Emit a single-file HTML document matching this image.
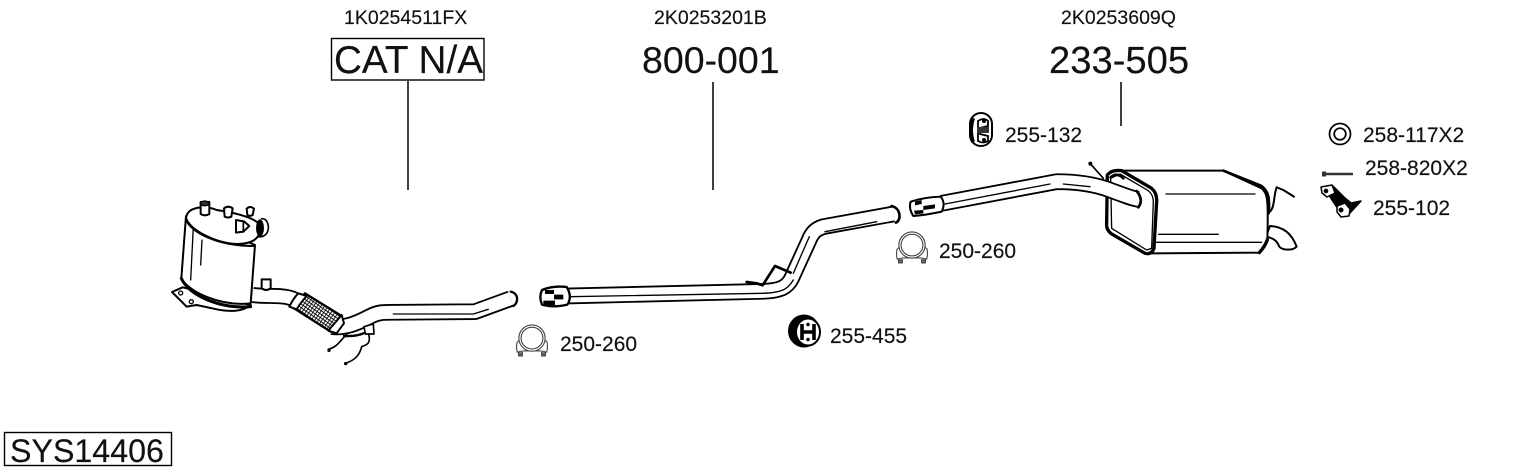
<!DOCTYPE html>
<html><head><meta charset="utf-8"><style>
html,body{margin:0;padding:0;background:#fff}
svg{display:block}
text{font-family:"Liberation Sans",sans-serif;fill:#111;stroke:#111;stroke-width:.15px}
.s{font-size:19.5px}.m{font-size:21px}
</style></head><body>
<svg width="1530" height="474" viewBox="0 0 1530 474" xmlns="http://www.w3.org/2000/svg">
<defs>
<pattern id="h" width="9" height="9" patternUnits="userSpaceOnUse" patternTransform="rotate(35)">
<rect width="9" height="9" fill="#fff"/><path d="M0 0H9M0 0V9" stroke="#000" stroke-width="5"/>
</pattern>
<g id="clamp" fill="#fff" stroke="#444" stroke-width="3.500" stroke-linejoin="round">
<path d="M8,88 V100 H20 V88M80,88 V100 H92 V88" fill="#666"/>
<path d="M3,58 Q0,75 4,88 L22,84 H78 L96,88 Q100,72 97,56 L88,48 H12Z"/>
<circle cx="50" cy="44" r="41"/>
<circle cx="50" cy="44" r="34"/>
</g>
</defs>
<rect width="1530" height="474" fill="#fff"/>

<!-- Labels -->
<text x="344" y="24" class="s">1K0254511FX</text>
<text x="654" y="24" class="s">2K0253201B</text>
<text x="1061" y="24" class="s">2K0253609Q</text>
<rect x="331.500" y="38.500" width="152.500" height="41.500" fill="#fff" stroke="#000" stroke-width="1.400"/>
<text x="334" y="73" font-size="38.800" textLength="149" lengthAdjust="spacingAndGlyphs">CAT N/A</text>
<text x="642" y="73" font-size="37.500">800-001</text>
<text x="1049" y="73" font-size="38.200">233-505</text>
<path d="M408 81V190M713 82V190M1121 82V126" stroke="#111" stroke-width="1.600" fill="none"/>
<rect x="4.500" y="432.500" width="167" height="33" fill="#fff" stroke="#000" stroke-width="1.400"/>
<text x="10" y="462" font-size="32.200">SYS14406</text>
<text x="560" y="351" class="m">250-260</text>
<text x="830" y="343" class="m">255-455</text>
<text x="939" y="258" class="m">250-260</text>
<text x="1005" y="142" class="m">255-132</text>
<text x="1363" y="142" class="m">258-117X2</text>
<text x="1365" y="175" class="m">258-820X2</text>
<text x="1373" y="215" class="m">255-102</text>

<!-- Cat + front pipe -->
<g transform="translate(160,190) scale(.3333)" fill="none" stroke-linecap="round" stroke-linejoin="round">
<path d="M36,306 L68,292 L272,345 Q240,372 170,358 L110,345 L80,350Z" fill="#fff" stroke="#000" stroke-width="6"/>
<circle cx="62" cy="309" r="6" stroke="#000" stroke-width="4"/><circle cx="94" cy="335" r="6" stroke="#000" stroke-width="4"/>
<path d="M78,78 L64,265 C85,305 180,350 272,340 L285,165Z" fill="#fff" stroke="#000" stroke-width="6"/>
<path d="M64,265 C85,315 180,358 272,350" stroke="#000" stroke-width="9"/>
<path d="M100,110 L92,270M126,150 L122,225" stroke="#000" stroke-width="4"/>
<path d="M82,72 C92,52 135,45 170,60 C225,68 295,85 302,110 C302,140 285,162 230,162 C170,160 85,120 78,82Z" fill="#fff" stroke="#000" stroke-width="6"/>
<path d="M78,88 C90,125 170,168 282,168" stroke="#000" stroke-width="6"/>
<path d="M122,36 H148 V72 Q135,80 122,72Z" fill="#fff" stroke="#000" stroke-width="6"/><ellipse cx="134" cy="40" rx="13" ry="7" fill="#333" stroke="#000" stroke-width="4"/>
<path d="M192,55 Q205,45 218,55 L214,80 Q203,85 194,80Z" fill="#fff" stroke="#000" stroke-width="6"/>
<path d="M260,56 Q270,46 282,56 L278,75 Q270,80 262,75Z" fill="#fff" stroke="#000" stroke-width="6"/>
<path d="M228,90 L252,94 L268,108 L250,125 L228,128Z" fill="#fff" stroke="#000" stroke-width="6"/><path d="M250,94V126" stroke="#000" stroke-width="5"/>
<ellipse cx="300" cy="114" rx="12" ry="26" fill="#000"/><path d="M305,86 C325,85 330,115 320,130 Q310,143 292,140" stroke="#000" stroke-width="5"/>
<path d="M278,315 C330,322 380,310 415,335" stroke="#000" stroke-width="48" stroke-linecap="butt"/>
<path d="M278,315 C330,322 380,310 415,335" stroke="#fff" stroke-width="37" stroke-linecap="butt"/>
<path d="M305,268 H332 V295 Q318,305 305,295Z" fill="#fff" stroke="#000" stroke-width="6"/>
<path d="M505,478 C535,470 540,450 560,435M555,520 C590,510 600,490 605,470 C620,465 635,460 625,430" stroke="#000" stroke-width="5"/>
<circle cx="507" cy="481" r="5" fill="#000"/><circle cx="557" cy="521" r="5" fill="#000"/>
<path d="M515,410 C555,415 590,400 625,382 C650,368 665,367 690,367 L945,365 L1052,326" stroke="#000" stroke-width="50" stroke-linecap="butt"/>
<path d="M515,410 C555,415 590,400 625,382 C650,368 665,367 690,367 L945,365 L1052,326" stroke="#fff" stroke-width="39" stroke-linecap="butt"/>
<path d="M1052,305 C1078,310 1075,340 1060,348" stroke="#000" stroke-width="7" fill="#fff"/>
<path d="M700,372 L940,372 L985,358" stroke="#000" stroke-width="4"/>
<path d="M612,410 L640,402 L642,432 L616,432Z" fill="#fff" stroke="#000" stroke-width="5"/>
<path d="M402,355 L435,310 L545,378 L512,425Z" fill="url(#h)" stroke="#000" stroke-width="7"/>
<path d="M415,310 L440,318 Q420,340 410,358 L388,350Q400,325 415,310ZM545,375 L552,400 L530,430 L505,422Z" fill="#fff" stroke="#000" stroke-width="6"/>
<path d="M552,438 Q590,440 615,428" stroke="#000" stroke-width="7"/>
</g>

<!-- Mid pipe -->
<g transform="translate(530,190) scale(.3333)" fill="none" stroke-linecap="round" stroke-linejoin="round">
<path d="M110,318 L700,304 C755,302 772,290 785,265 L842,140 C852,122 862,116 880,110 L1090,72" stroke="#000" stroke-width="50" stroke-linecap="butt"/>
<path d="M110,318 L700,304 C755,302 772,290 785,265 L842,140 C852,122 862,116 880,110 L1090,72" stroke="#fff" stroke-width="39" stroke-linecap="butt"/>
<path d="M120,320 L700,310 C760,308 775,295 790,270" stroke="#000" stroke-width="4"/>
<path d="M790,250 L838,140 M885,125 L1040,95" stroke="#000" stroke-width="4"/>
<path d="M1085,48 C1114,55 1114,92 1098,98" fill="#fff" stroke="#000" stroke-width="8"/>
<path d="M650,276 L680,280 L698,286 L735,228 L782,248" stroke="#000" stroke-width="8"/>
<path d="M36,300 Q70,286 110,291 Q128,320 112,344 Q70,354 36,344 Q26,320 36,300Z" fill="#fff" stroke="#000" stroke-width="7"/>
<path d="M45,300 H72 V312 H45ZM40,332 H75 V345 H40Z M72,314 H100 V328 H72Z" fill="#000"/>
</g>

<!-- Muffler + rear pipe -->
<g transform="translate(890,100) scale(.3333)" fill="none" stroke-linecap="round" stroke-linejoin="round">
<path d="M1140,378 C1180,380 1205,400 1220,440 C1210,452 1178,452 1168,440 C1160,420 1150,415 1128,410Z" fill="#fff" stroke="#000" stroke-width="6"/>
<path d="M1140,335 C1155,320 1150,290 1160,262 L1180,270 L1212,290" stroke="#000" stroke-width="6"/>
<path d="M690,212 L1000,212 L1115,265 C1132,280 1136,295 1132,420 L1108,458 L780,460Z" fill="#fff" stroke="#000" stroke-width="6"/>
<path d="M1000,212 L1115,258 C1136,275 1140,295 1136,340" stroke="#000" stroke-width="8"/>
<path d="M828,282 H1095M806,403 H985M800,427 H1115" stroke="#000" stroke-width="4"/>
<path d="M1108,458 Q1125,440 1132,420" stroke="#000" stroke-width="10"/>
<path d="M652,225 Q665,208 695,212 L785,265 Q802,280 800,305 L792,445 Q785,465 765,460 L665,402 Q648,390 650,370Z" fill="#fff" stroke="#000" stroke-width="10"/>
<path d="M662,235 L665,385 L770,450 L785,445 L790,305 Q790,285 775,272 L690,222Z" stroke="#000" stroke-width="4"/>
<path d="M600,190 L640,235" stroke="#000" stroke-width="5"/><circle cx="601" cy="191" r="6" fill="#000"/>
<path d="M662,232 Q680,215 700,235" stroke="#000" stroke-width="8"/>
<path d="M155,310 L500,245 C570,245 620,255 660,270 C700,285 725,295 745,298" stroke="#000" stroke-width="50" stroke-linecap="butt"/>
<path d="M155,310 L500,245 C570,245 620,255 660,270 C700,285 725,295 745,298" stroke="#fff" stroke-width="39" stroke-linecap="butt"/>
<path d="M165,312 L480,252 M520,252 L600,260" stroke="#000" stroke-width="4"/>
<path d="M740,273 Q762,300 745,322" stroke="#000" stroke-width="8" fill="#fff"/>
<path d="M62,305 Q100,292 152,290 Q168,310 155,335 Q110,345 70,348 Q55,325 62,305Z" fill="#fff" stroke="#000" stroke-width="6"/>
<path d="M100,318 L135,313 V325 L100,330Z M75,305 L95,300 V312 L75,316Z M72,332 L100,330 V340 L75,343Z" fill="#000"/>
</g>

<!-- Clamps -->
<use href="#clamp" transform="translate(516,324) scale(.32)"/>
<use href="#clamp" transform="translate(896,231) scale(.32)"/>

<!-- Hanger 255-455 -->
<g>
<ellipse cx="804" cy="331" rx="16" ry="16.500" fill="#000"/>
<ellipse cx="808" cy="332" rx="12" ry="13.500" fill="#fff" stroke="#000" stroke-width="2"/>
<path d="M802,324 V340 M814,324 V340 M802,332 H814" stroke="#000" stroke-width="3.600"/>
<circle cx="808" cy="324.500" r="1.800" fill="#000"/><circle cx="808" cy="339.500" r="1.800" fill="#000"/>
</g>
<!-- Hanger 255-132 -->
<g>
<rect x="970" y="113" width="22" height="33" rx="11" fill="#fff" stroke="#000" stroke-width="2"/>
<path d="M973,118 Q969,130 973,142" stroke="#000" stroke-width="4" fill="none"/>
<path d="M978,121 Q984,117 988,121 V126 L980,128 V134 L988,136 V141 Q983,144 978,141Z" fill="#fff" stroke="#000" stroke-width="1.800"/>
<rect x="977" y="127" width="12" height="6" fill="#333"/>
<circle cx="984" cy="121" r="2" fill="#000"/><circle cx="984" cy="140" r="2" fill="#000"/>
</g>
<!-- Washer -->
<circle cx="1340" cy="134" r="10.500" fill="#fff" stroke="#000" stroke-width="1.700"/>
<circle cx="1340" cy="134" r="5.800" fill="#fff" stroke="#000" stroke-width="1.700"/>
<!-- Bolt -->
<path d="M1325,174 H1353" stroke="#333" stroke-width="2.400"/>
<rect x="1322" y="171.500" width="4" height="5" fill="#333"/>
<!-- Bracket 255-102 -->
<g fill="#fff" stroke="#000" stroke-width="1.500" stroke-linejoin="round">
<path d="M1333,186 L1345,198 L1351,203 L1361,201 L1350,213 L1340,212 L1330,197Z" fill="#000"/>
<path d="M1321,187 L1332,185 L1335,193 L1327,197 L1322,193Z"/>
<circle cx="1326" cy="191" r="1.600" fill="#000"/>
<path d="M1337,206 L1345,203 L1350,209 L1349,216 L1341,217 L1337,212Z"/>
<circle cx="1341" cy="210" r="1.800" fill="#000"/>
</g>
</svg>
</body></html>
